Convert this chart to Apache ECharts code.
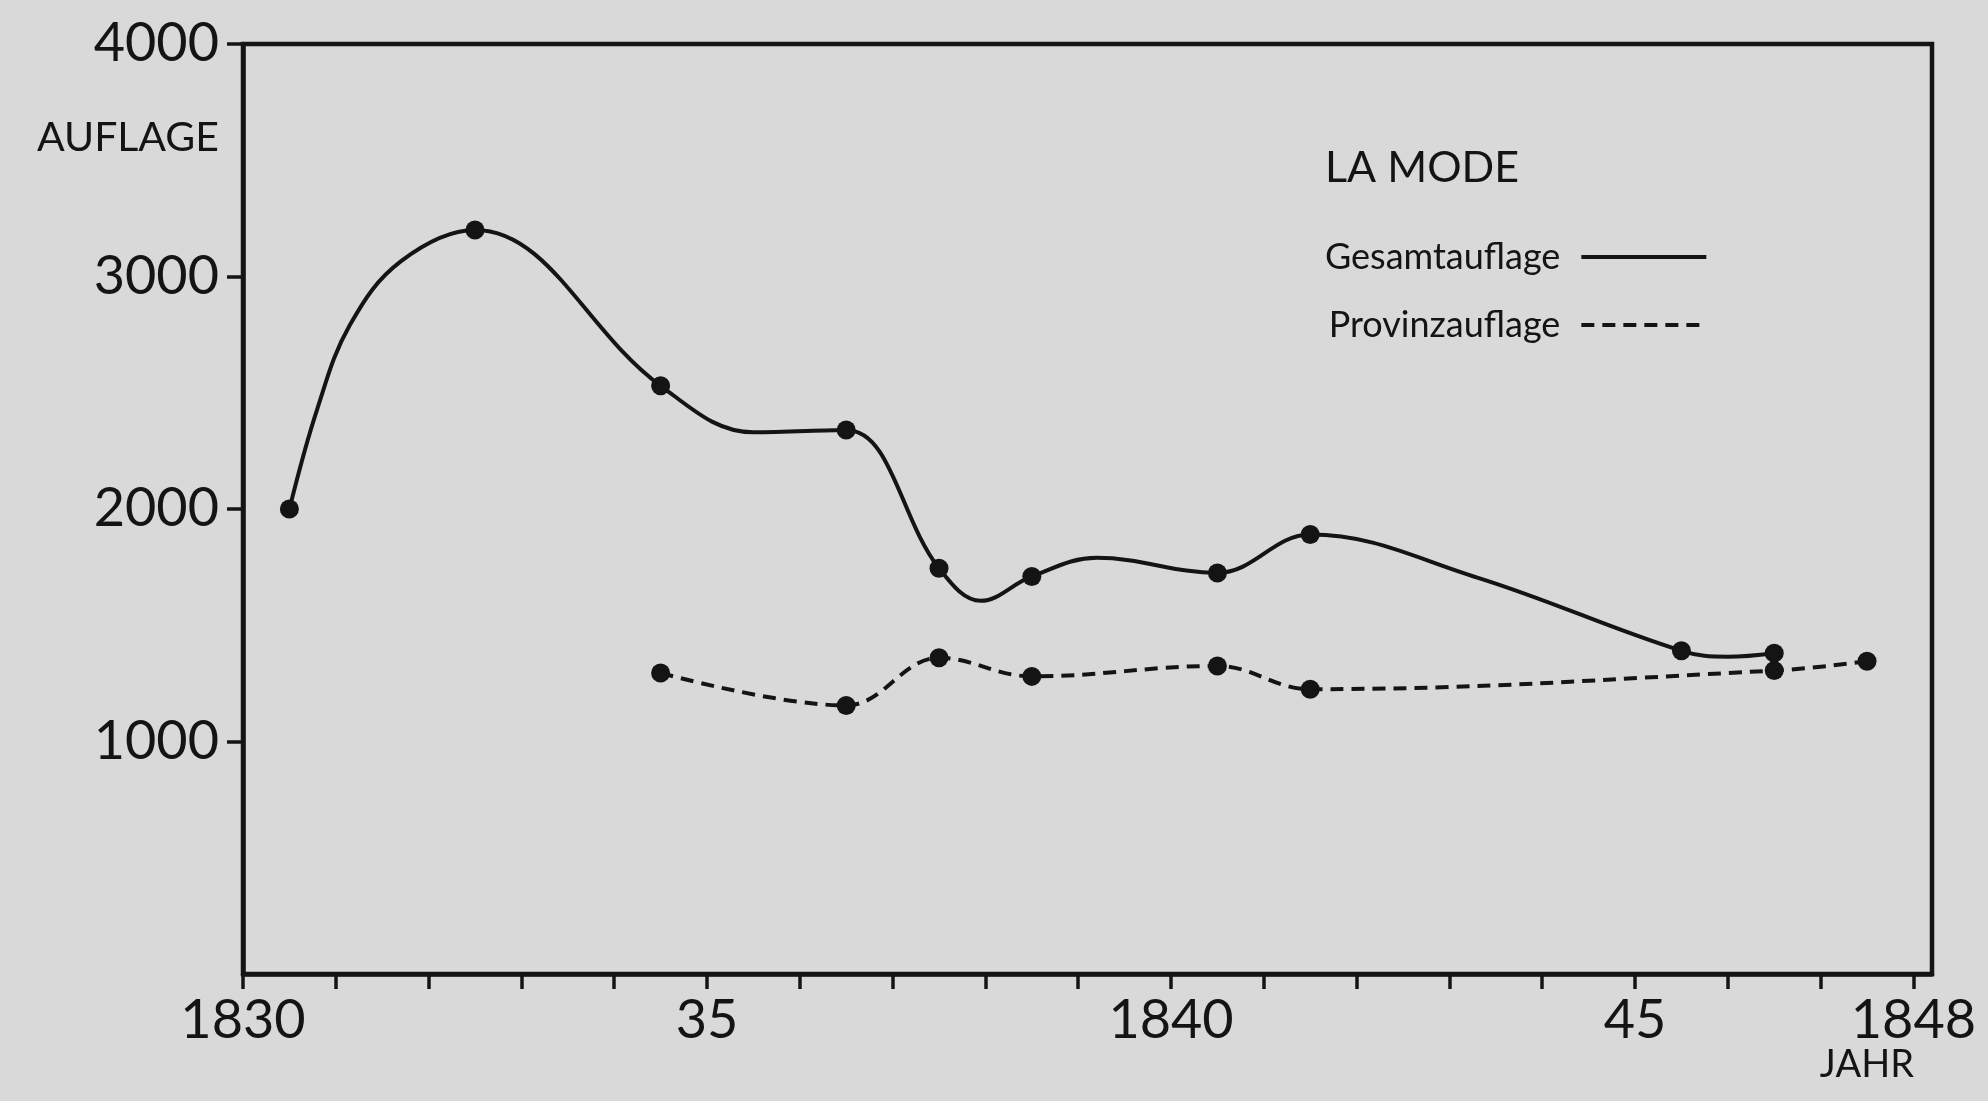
<!DOCTYPE html>
<html>
<head>
<meta charset="utf-8">
<script src="https://cdn.jsdelivr.net/npm/echarts@6/dist/echarts.min.js"></script>
<style>
html, body { margin: 0; padding: 0; background: #d9d9d9; }
#chart { width: 1988px; height: 1101px; }
</style>
</head>
<body>
<div id="chart"></div>
<script>
// ---- Data ----
// Gesamtauflage: marked values (plotted at mid-year)
const gesamtYears  = [1830.5, 1832.5, 1834.5, 1836.5, 1837.5, 1838.5, 1840.5, 1841.5, 1845.5, 1846.5];
const gesamtValues = [2000,   3200,   2530,   2340,   1745,   1710,   1725,   1890,   1390,   1380];
const gesamtCurveYears  = [1830.8, 1831.15, 1831.7, 1835.5, 1837.95, 1839.2, 1843.3, 1846.0];
const gesamtCurveValues = [2430,   2790,    3065,   2330,   1605,    1790,   1705,   1365];
// Provinzauflage: marked values
const provinzYears  = [1834.5, 1836.5, 1837.5, 1838.5, 1840.5, 1841.5, 1846.5, 1847.5];
const provinzValues = [1295,   1155,   1360,   1280,   1325,   1225,   1305,   1345];
// axis ticks and labels
const xTickValues  = [1830,1831,1832,1833,1834,1835,1836,1837,1838,1839,1840,1841,1842,1843,1844,1845,1846,1847,1848];
const xLabelValues = [1830, 1835, 1840, 1845, 1848];
const xLabelTexts  = ['1830', '35', '1840', '45', '1848'];
const yTickValues  = [1000, 2000, 3000, 4000];
const yLabelTexts  = ['1000', '2000', '3000', '4000'];

// ---- build series data ----
const gesamtPoints = gesamtYears.map((y, i) => [y, gesamtValues[i]]);
const gesamtCurve = gesamtPoints
  .concat(gesamtCurveYears.map((y, i) => [y, gesamtCurveValues[i]]))
  .sort((a, b) => a[0] - b[0]);
const provinzPoints = provinzYears.map((y, i) => [y, provinzValues[i]]);

const INK = '#141414';
const FONT = 'Lato';

const chart = echarts.init(document.getElementById('chart'), null, { renderer: 'canvas' });
chart.setOption({
  backgroundColor: '#d9d9d9',
  animation: false,
  title: {
    text: 'LA MODE',
    left: 1320,
    top: 142,
    textStyle: { fontFamily: FONT, fontSize: 43, fontWeight: 'normal', color: INK }
  },
  legend: {
    data: ['Gesamtauflage', 'Provinzauflage'],
    orient: 'vertical',
    left: 1320,
    top: 234,
    align: 'right',
    itemWidth: 125,
    itemHeight: 14,
    itemGap: 32,
    selectedMode: false,
    itemStyle: { color: 'rgba(0,0,0,0)', borderWidth: 0, opacity: 0 },
    lineStyle: { width: 4 },
    textStyle: { fontFamily: FONT, fontSize: 36, color: INK, padding: [0, 16, 0, 0] }
  },
  grid: {
    left: 243, right: 56, top: 44, bottom: 127,
    show: true, borderColor: INK, borderWidth: 4.5,
    containLabel: false, outerBoundsMode: 'none'
  },
  xAxis: {
    type: 'value',
    min: 1830, max: 1848.2, interval: 1,
    name: 'JAHR',
    nameLocation: 'end',
    nameGap: -18,
    nameMoveOverlap: false,
    nameTextStyle: { fontFamily: FONT, fontSize: 38, color: INK, align: 'right', verticalAlign: 'top', padding: [72, 0, 0, 0] },
    axisLine: { show: true, lineStyle: { color: INK, width: 4.5 } },
    axisTick: { show: true, inside: false, length: 15, customValues: xTickValues, lineStyle: { color: INK, width: 3.5 } },
    axisLabel: {
      customValues: xLabelValues,
      margin: 20,
      fontFamily: FONT, fontSize: 54, color: INK,
      formatter: v => { const i = xLabelValues.indexOf(Math.round(v)); return i >= 0 ? xLabelTexts[i] : ''; }
    },
    splitLine: { show: false }
  },
  yAxis: {
    type: 'value',
    min: 0, max: 4000, interval: 1000,
    name: 'AUFLAGE',
    nameLocation: 'end',
    nameGap: -114,
    nameMoveOverlap: false,
    nameTextStyle: { fontFamily: FONT, fontSize: 41, color: INK, align: 'right', verticalAlign: 'bottom', padding: [0, 24, 0, 0] },
    axisLine: { show: true, lineStyle: { color: INK, width: 4.5 } },
    axisTick: { show: true, inside: false, length: 16, customValues: yTickValues, lineStyle: { color: INK, width: 3.5 } },
    axisLabel: {
      customValues: yTickValues,
      margin: 24,
      padding: [8, 0, 0, 0],
      fontFamily: FONT, fontSize: 54, color: INK,
      formatter: v => { const i = yTickValues.indexOf(Math.round(v)); return i >= 0 ? yLabelTexts[i] : ''; }
    },
    splitLine: { show: false }
  },
  series: [
    {
      name: 'Gesamtauflage', type: 'line', data: gesamtCurve,
      smooth: 0.38, symbol: 'none',
      lineStyle: { color: INK, width: 4 }, itemStyle: { color: INK }, z: 3
    },
    {
      name: 'Provinzauflage', type: 'line', data: provinzPoints,
      smooth: 0.38, symbol: 'none',
      lineStyle: { color: INK, width: 4, type: [13, 8] }, itemStyle: { color: INK }, z: 3
    },
    {
      name: 'Gesamtauflage Werte', type: 'scatter', data: gesamtPoints,
      symbolSize: 19, itemStyle: { color: INK, opacity: 1 }, z: 4
    },
    {
      name: 'Provinzauflage Werte', type: 'scatter', data: provinzPoints,
      symbolSize: 19, itemStyle: { color: INK, opacity: 1 }, z: 4
    }
  ]
});
</script>
</body>
</html>
